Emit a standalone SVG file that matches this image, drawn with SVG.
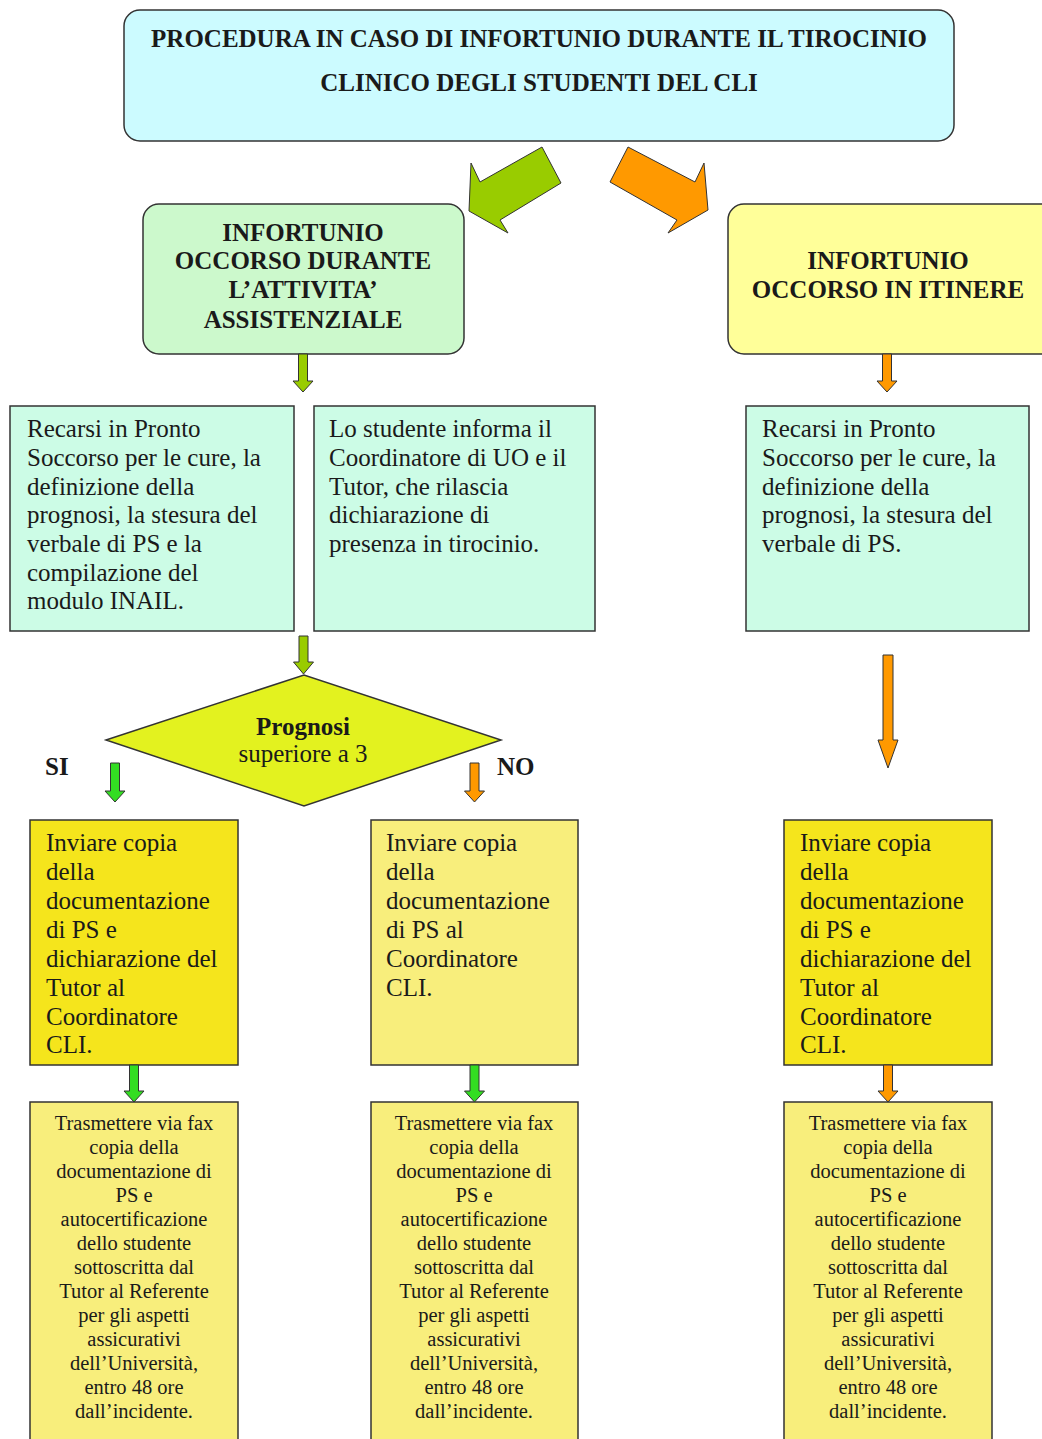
<svg xmlns="http://www.w3.org/2000/svg" width="1042" height="1439" viewBox="0 0 1042 1439">
<style>
text{font-family:"Liberation Serif","Times New Roman",serif;fill:#1a1a1a}
.b{font-weight:bold;font-size:25px}
.r{font-size:25px}
.s{font-size:20.5px}
.c{text-anchor:middle}
.box{stroke:#333;stroke-width:1.5}
.arr{stroke:#333;stroke-width:1}
.olive{fill:#99CC00}
.green{fill:#33DD22}
.orange{fill:#FF9900}
</style>
<rect width="1042" height="1439" fill="#fff"/>

<g id="title">
<rect class="box" x="124" y="10" width="830" height="131" rx="16" fill="#CCFBFF"/>
<text class="b c" x="539" y="47">PROCEDURA IN CASO DI INFORTUNIO DURANTE IL TIROCINIO</text>
<text class="b c" x="539" y="91">CLINICO DEGLI STUDENTI DEL CLI</text>
</g>

<g id="assistenziale">
<rect class="box" x="143" y="204" width="321" height="150" rx="16" fill="#CCF9CC"/>
<text class="b c" x="303" y="241">INFORTUNIO</text>
<text class="b c" x="303" y="269">OCCORSO DURANTE</text>
<text class="b c" x="303" y="298">L’ATTIVITA’</text>
<text class="b c" x="303" y="328">ASSISTENZIALE</text>
</g>

<g id="itinere">
<rect class="box" x="728" y="204" width="340" height="150" rx="16" fill="#FFFF99"/>
<text class="b c" x="888" y="269">INFORTUNIO</text>
<text class="b c" x="888" y="298">OCCORSO IN ITINERE</text>
</g>

<g id="pronto-soccorso-1">
<rect class="box" x="10" y="406" width="284" height="225" fill="#CCFCE6"/>
<text class="r" x="27" y="437">Recarsi in Pronto</text>
<text class="r" x="27" y="466">Soccorso per le cure, la</text>
<text class="r" x="27" y="494.5">definizione della</text>
<text class="r" x="27" y="523">prognosi, la stesura del</text>
<text class="r" x="27" y="552">verbale di PS e la</text>
<text class="r" x="27" y="580.5">compilazione del</text>
<text class="r" x="27" y="609">modulo INAIL.</text>
</g>

<g id="informa">
<rect class="box" x="314" y="406" width="281" height="225" fill="#CCFCE6"/>
<text class="r" x="329" y="437">Lo studente informa il</text>
<text class="r" x="329" y="466">Coordinatore di UO e il</text>
<text class="r" x="329" y="494.5">Tutor, che rilascia</text>
<text class="r" x="329" y="523">dichiarazione di</text>
<text class="r" x="329" y="552">presenza in tirocinio.</text>
</g>

<g id="pronto-soccorso-2">
<rect class="box" x="746" y="406" width="283" height="225" fill="#CCFCE6"/>
<text class="r" x="762" y="437">Recarsi in Pronto</text>
<text class="r" x="762" y="466">Soccorso per le cure, la</text>
<text class="r" x="762" y="494.5">definizione della</text>
<text class="r" x="762" y="523">prognosi, la stesura del</text>
<text class="r" x="762" y="552">verbale di PS.</text>
</g>

<g id="prognosi">
<polygon class="box" points="106,740 304,675 501,740 304,806" fill="#E3F21F"/>
<text class="b c" x="303" y="735">Prognosi</text>
<text class="r c" x="303" y="762">superiore a 3</text>
</g>

<g id="inviare-si">
<rect class="box" x="30" y="820" width="208" height="245" fill="#F5E51C"/>
<text class="r" x="46" y="851">Inviare copia</text>
<text class="r" x="46" y="880">della</text>
<text class="r" x="46" y="909">documentazione</text>
<text class="r" x="46" y="938">di PS e</text>
<text class="r" x="46" y="967">dichiarazione del</text>
<text class="r" x="46" y="995.5">Tutor al</text>
<text class="r" x="46" y="1024.5">Coordinatore</text>
<text class="r" x="46" y="1053">CLI.</text>
</g>

<g id="inviare-no">
<rect class="box" x="371" y="820" width="207" height="245" fill="#F8EE7C"/>
<text class="r" x="386" y="851">Inviare copia</text>
<text class="r" x="386" y="880">della</text>
<text class="r" x="386" y="909">documentazione</text>
<text class="r" x="386" y="938">di PS al</text>
<text class="r" x="386" y="967">Coordinatore</text>
<text class="r" x="386" y="995.5">CLI.</text>
</g>

<g id="inviare-itinere">
<rect class="box" x="784" y="820" width="208" height="245" fill="#F5E51C"/>
<text class="r" x="800" y="851">Inviare copia</text>
<text class="r" x="800" y="880">della</text>
<text class="r" x="800" y="909">documentazione</text>
<text class="r" x="800" y="938">di PS e</text>
<text class="r" x="800" y="967">dichiarazione del</text>
<text class="r" x="800" y="995.5">Tutor al</text>
<text class="r" x="800" y="1024.5">Coordinatore</text>
<text class="r" x="800" y="1053">CLI.</text>
</g>

<g id="trasmettere-si">
<rect class="box" x="30" y="1102" width="208" height="345" fill="#F8EE7C"/>
<text class="s c" x="134" y="1130">Trasmettere via fax</text>
<text class="s c" x="134" y="1154">copia della</text>
<text class="s c" x="134" y="1178">documentazione di</text>
<text class="s c" x="134" y="1202">PS e</text>
<text class="s c" x="134" y="1226">autocertificazione</text>
<text class="s c" x="134" y="1250">dello studente</text>
<text class="s c" x="134" y="1274">sottoscritta dal</text>
<text class="s c" x="134" y="1298">Tutor al Referente</text>
<text class="s c" x="134" y="1322">per gli aspetti</text>
<text class="s c" x="134" y="1346">assicurativi</text>
<text class="s c" x="134" y="1370">dell’Università,</text>
<text class="s c" x="134" y="1394">entro 48 ore</text>
<text class="s c" x="134" y="1418">dall’incidente.</text>
</g>

<g id="trasmettere-no">
<rect class="box" x="371" y="1102" width="207" height="345" fill="#F8EE7C"/>
<text class="s c" x="474" y="1130">Trasmettere via fax</text>
<text class="s c" x="474" y="1154">copia della</text>
<text class="s c" x="474" y="1178">documentazione di</text>
<text class="s c" x="474" y="1202">PS e</text>
<text class="s c" x="474" y="1226">autocertificazione</text>
<text class="s c" x="474" y="1250">dello studente</text>
<text class="s c" x="474" y="1274">sottoscritta dal</text>
<text class="s c" x="474" y="1298">Tutor al Referente</text>
<text class="s c" x="474" y="1322">per gli aspetti</text>
<text class="s c" x="474" y="1346">assicurativi</text>
<text class="s c" x="474" y="1370">dell’Università,</text>
<text class="s c" x="474" y="1394">entro 48 ore</text>
<text class="s c" x="474" y="1418">dall’incidente.</text>
</g>

<g id="trasmettere-itinere">
<rect class="box" x="784" y="1102" width="208" height="345" fill="#F8EE7C"/>
<text class="s c" x="888" y="1130">Trasmettere via fax</text>
<text class="s c" x="888" y="1154">copia della</text>
<text class="s c" x="888" y="1178">documentazione di</text>
<text class="s c" x="888" y="1202">PS e</text>
<text class="s c" x="888" y="1226">autocertificazione</text>
<text class="s c" x="888" y="1250">dello studente</text>
<text class="s c" x="888" y="1274">sottoscritta dal</text>
<text class="s c" x="888" y="1298">Tutor al Referente</text>
<text class="s c" x="888" y="1322">per gli aspetti</text>
<text class="s c" x="888" y="1346">assicurativi</text>
<text class="s c" x="888" y="1370">dell’Università,</text>
<text class="s c" x="888" y="1394">entro 48 ore</text>
<text class="s c" x="888" y="1418">dall’incidente.</text>
</g>

<g id="connectors">
<polygon class="arr olive" points="469,211 471,163 480,182 542,147 561,183 500,220 508,233"/>
<polygon class="arr orange" points="628,147 695,182 704,163 708,210 668,233 677,220 610,182"/>
<path class="arr olive" d="M298.5,354 H307.5 V381 H313 L303,392 L293,381 H298.5 Z"/>
<path class="arr orange" d="M882.5,354 H891.5 V381 H897 L887,392 L877,381 H882.5 Z"/>
<path class="arr olive" d="M299,636 H308 V662 H313.5 L303.5,674 L293.5,662 H299 Z"/>
<path class="arr green" d="M110.5,763 H119.5 V791 H125 L115,802 L105,791 H110.5 Z"/>
<path class="arr orange" d="M470,763 H479 V791 H484.5 L474.5,802 L464.5,791 H470 Z"/>
<path class="arr orange" d="M883,655 H893 V740 H898 L888,768 L878,740 H883 Z"/>
<path class="arr green" d="M129.5,1065 H138.5 V1091 H144 L134,1102 L124,1091 H129.5 Z"/>
<path class="arr green" d="M470,1065 H479 V1091 H484.5 L474.5,1102 L464.5,1091 H470 Z"/>
<path class="arr orange" d="M883.5,1065 H892.5 V1091 H898 L888,1102 L878,1091 H883.5 Z"/>
</g>

<g id="labels">
<text class="b" x="45" y="775">SI</text>
<text class="b" x="497" y="775">NO</text>
</g>
</svg>
